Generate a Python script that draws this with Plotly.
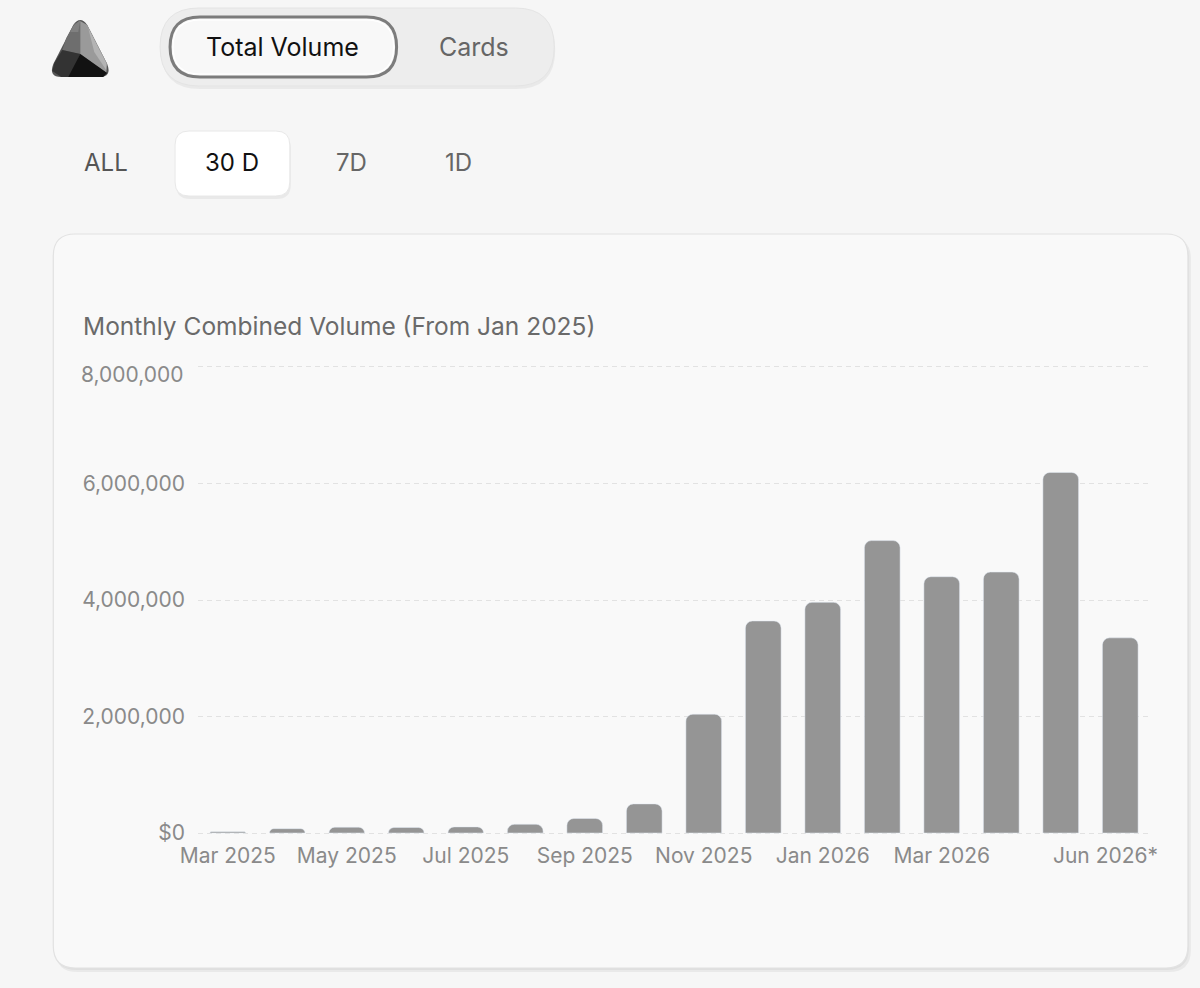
import plotly.graph_objects as go

# ---------------- data ----------------
months = ["Mar 2025", "Apr 2025", "May 2025", "Jun 2025", "Jul 2025", "Aug 2025",
          "Sep 2025", "Oct 2025", "Nov 2025", "Dec 2025", "Jan 2026", "Feb 2026",
          "Mar 2026", "Apr 2026", "May 2026", "Jun 2026"]
volume = [20000, 75000, 100000, 95000, 105000, 150000, 250000, 500000,
          2040000, 3640000, 3960000, 5020000, 4400000, 4480000, 6190000, 3350000]
x_tick_vals = ["Mar 2025", "May 2025", "Jul 2025", "Sep 2025", "Nov 2025",
               "Jan 2026", "Mar 2026", "Jun 2026"]
x_tick_text = ["Mar 2025", "May 2025", "Jul 2025", "Sep 2025", "Nov 2025",
               "Jan 2026", "Mar 2026", "Jun 2026*" + "\u00a0" * 5]
y_tick_vals = [0, 2000000, 4000000, 6000000, 8000000]
y_tick_text = ["$0", "2,000,000", "4,000,000", "6,000,000", ""]
y_top_label = "8,000,000"
title_text = "Monthly Combined Volume (From Jan 2025)"
toggle_labels = ["Total Volume", "Cards"]
range_labels = ["ALL", "30 D", "7D", "1D"]

# ---------------- layout geometry ----------------
W, H = 1200, 988
ML, MR, MT, MB = 198, 48, 365, 153
PW, PH = W - ML - MR, H - MT - MB
FONT = "Inter, Roboto, sans-serif"


def px(x):
    return (x - ML) / PW


def py(y):
    return (H - MB - y) / PH


def fmt(pts):
    return " ".join(f"{px(a):.5f},{py(b):.5f}" for a, b in pts)


def rrect_path(x0, y0, x1, y1, r):
    return (f"M {fmt([(x0 + r, y0)])} L {fmt([(x1 - r, y0)])} "
            f"Q {fmt([(x1, y0), (x1, y0 + r)])} L {fmt([(x1, y1 - r)])} "
            f"Q {fmt([(x1, y1), (x1 - r, y1)])} L {fmt([(x0 + r, y1)])} "
            f"Q {fmt([(x0, y1), (x0, y1 - r)])} L {fmt([(x0, y0 + r)])} "
            f"Q {fmt([(x0, y0), (x0 + r, y0)])} Z")


def poly_path(points):
    return "M " + " L ".join(fmt([p]) for p in points) + " Z"


shapes = []


def add_rr(x0, y0, x1, y1, r, fill, line_color=None, line_width=0, layer="below"):
    shapes.append(dict(type="path", xref="paper", yref="paper", layer=layer,
                       path=rrect_path(x0, y0, x1, y1, r), fillcolor=fill,
                       line=dict(color=line_color or "rgba(0,0,0,0)", width=line_width)))


def add_poly(points, fill):
    shapes.append(dict(type="path", xref="paper", yref="paper", layer="below",
                       path=poly_path(points), fillcolor=fill, line=dict(width=0)))


# card with soft shadow
add_rr(55, 237, 1193, 972, 22, "rgba(0,0,0,0.05)")
add_rr(54, 236, 1191, 970, 22, "rgba(0,0,0,0.04)")
add_rr(53, 234, 1190, 968, 22, "#f9f9f9", "#e2e2e2", 1.2)

# toggle container
add_rr(161, 11, 556, 89, 39, "rgba(0,0,0,0.05)")
add_rr(160, 8, 555, 86, 39, "#ededed", "#e4e4e4", 1)
# selected toggle
add_rr(170, 17, 397, 77, 30, "#f8f8f8", "#7c7c7c", 3)
add_rr(173, 20, 394, 74, 27, "rgba(0,0,0,0)", "#ffffff", 1.2)

# 30 D button
add_rr(176, 134, 291, 199, 14, "rgba(0,0,0,0.05)")
add_rr(175, 131, 290, 196, 14, "#ffffff", "#e8e8e8", 1)

# logo: rounded triangle with shaded facets
logo_outline = (f"M {fmt([(73, 25)])} Q {fmt([(80, 15), (87, 25)])} "
                f"L {fmt([(107, 64)])} Q {fmt([(112, 77), (99, 77)])} "
                f"L {fmt([(61, 77)])} Q {fmt([(48, 77), (53, 64)])} Z")
shapes.append(dict(type="path", xref="paper", yref="paper", layer="below",
                   path=logo_outline, fillcolor="#555555", line=dict(width=0)))
add_poly([(74, 24), (80, 21), (80, 54), (62, 50), (66, 38)], "#6e6e6e")
add_poly([(73, 26), (80, 20), (78, 32), (70, 32)], "#808080")
add_poly([(54, 63), (62, 50), (80, 54), (70, 77), (61, 77), (52, 71)], "#333333")
add_poly([(80, 21), (87, 25), (107, 64), (106, 73), (80, 54)], "#9a9a9a")
add_poly([(88, 28), (106, 63), (106, 70), (94, 52)], "#b4b4b4")
add_poly([(80, 54), (107, 73), (103, 77), (68, 77)], "#121212")

annotations = []


def add_text(x, y, text, size, color, anchor="center"):
    annotations.append(dict(xref="paper", yref="paper", x=px(x), y=py(y), text=text,
                            showarrow=False, xanchor=anchor, yanchor="middle",
                            font=dict(family=FONT, size=size, color=color)))


add_text(283, 47, toggle_labels[0], 25, "#111111")
add_text(475, 47, toggle_labels[1], 25, "#666666")
add_text(106, 163, range_labels[0], 24, "#555555")
add_text(232, 163, range_labels[1], 24, "#111111")
add_text(352, 163, range_labels[2], 24, "#666666")
add_text(459, 163, range_labels[3], 24, "#666666")
add_text(81, 326, title_text, 24.5, "#6a6a6a", anchor="left")

# top y label sits just under its gridline (as in the original chart)
annotations.append(dict(xref="paper", yref="y", x=px(186), y=y_tick_vals[-1], text=y_top_label,
                        showarrow=False, xanchor="right", yanchor="middle", yshift=-8,
                        font=dict(family=FONT, size=21, color="#8a8a8a")))

fig = go.Figure()
fig.add_trace(go.Bar(x=months, y=volume, marker=dict(color="#959595", cornerradius=7),
                     hoverinfo="x+y"))

fig.update_layout(
    width=W, height=H,
    margin=dict(l=ML, r=MR, t=MT, b=MB, pad=0),
    paper_bgcolor="#f6f6f6",
    plot_bgcolor="rgba(0,0,0,0)",
    bargap=0.4,
    showlegend=False,
    shapes=shapes,
    annotations=annotations,
    font=dict(family=FONT),
)
fig.update_xaxes(type="category", categoryorder="array", categoryarray=months,
                 tickmode="array", tickvals=x_tick_vals, ticktext=x_tick_text,
                 showgrid=False, zeroline=False, showline=False, ticks="",
                 ticklabelstandoff=6,
                 tickfont=dict(family=FONT, size=21, color="#8a8a8a"))
fig.update_yaxes(range=[-34000, 8034000], tickmode="array", tickvals=y_tick_vals,
                 ticktext=y_tick_text, showgrid=True, gridcolor="#e2e2e2", gridwidth=1,
                 griddash="5px,4px", zeroline=False, showline=False, ticks="",
                 ticklabelstandoff=12,
                 tickfont=dict(family=FONT, size=21, color="#8a8a8a"))

fig.write_html("out.html")
